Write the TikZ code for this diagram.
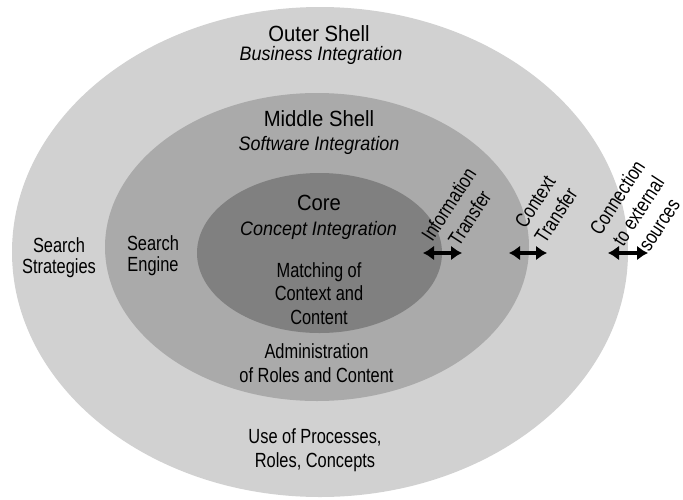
\documentclass[tikz,border=0pt]{standalone}
\usepackage{fontspec}
\setmainfont{Liberation Sans}[FakeStretch=0.92]
\newfontfamily\narrowfont{Liberation Sans}[FakeStretch=0.8]
\newcommand\bodyfont{\narrowfont\fontsize{20.5}{23.5}\selectfont}
\newcommand\titlefont{\fontsize{22}{26}\selectfont}
\newcommand\subtitlefont{\itshape\fontsize{19.5}{23}\selectfont}
\usetikzlibrary{shapes.geometric,arrows.meta}

\definecolor{outergray}{gray}{0.82}
\definecolor{middlegray}{gray}{0.665}
\definecolor{coregray}{gray}{0.5}

\begin{document}
\begin{tikzpicture}[
    x=1pt, y=-1pt,
    shell/.style={ellipse,inner sep=0pt,fill=#1},
    title/.style={font=\titlefont,anchor=base,inner sep=0pt},
    subtitle/.style={font=\subtitlefont,anchor=base,inner sep=0pt},
    label/.style={font=\bodyfont,align=center,anchor=base,inner sep=0pt},
    turned/.style={font=\narrowfont\fontsize{20.5}{25}\selectfont,align=center,rotate=57,inner sep=0pt},
    xfer/.style={{Latex[length=11pt,width=15pt]}-{Latex[length=11pt,width=15pt]},line width=4pt}
    ]
    \useasboundingbox (0,0) rectangle (683,499);

    % shells:
    \node (outer) at (320,252) [shell=outergray,minimum width=616pt,minimum height=490pt] {};
    \node (middle) at (317,247) [shell=middlegray,minimum width=424pt,minimum height=308pt] {};
    \node (core) at (319.5,253) [shell=coregray,minimum width=245pt,minimum height=160pt] {};

    % titles:
    \node (outert) at (319,41) [title] {Outer Shell};
    \node (outers) at (321,60) [subtitle] {Business Integration};
    \node (middlet) at (319,126) [title] {Middle Shell};
    \node (middles) at (319,150) [subtitle] {Software Integration};
    \node (coret) at (319,210) [title] {Core};
    \node (cores) at (318.5,235) [subtitle] {Concept Integration};

    % contents (base = last line):
    \node (matching) at (319,324) [label] {Matching of\\Context and\\Content};
    \node (admin) at (316.5,382) [label,font=\narrowfont\fontsize{20.5}{24}\selectfont] {Administration\\of Roles and Content};
    \node (strategies) at (59,273) [label,font=\narrowfont\fontsize{20.5}{21}\selectfont] {Search\\Strategies};
    \node (engine) at (153,271) [label,font=\narrowfont\fontsize{20.5}{21}\selectfont] {Search\\Engine};
    \node (processes) at (315,467) [label,font=\narrowfont\fontsize{20.5}{24}\selectfont] {Use of Processes,\\Roles, Concepts};

    % transfers:
    \node (info) at (459,211) [turned] {Information\\Transfer};
    \node (context) at (545.5,208.5) [turned] {Context\\Transfer};
    \node (external) at (638,211) [turned] {Connection\\to external\\sources};

    \foreach \n/\a/\b in {infox/423/462, contextx/509/547, externalx/608/648} {
      \coordinate (\n-l) at (\a,253);
      \coordinate (\n-r) at (\b,253);
      \draw [xfer] (\n-l) -- (\n-r);
    }

  \end{tikzpicture}
\end{document}
